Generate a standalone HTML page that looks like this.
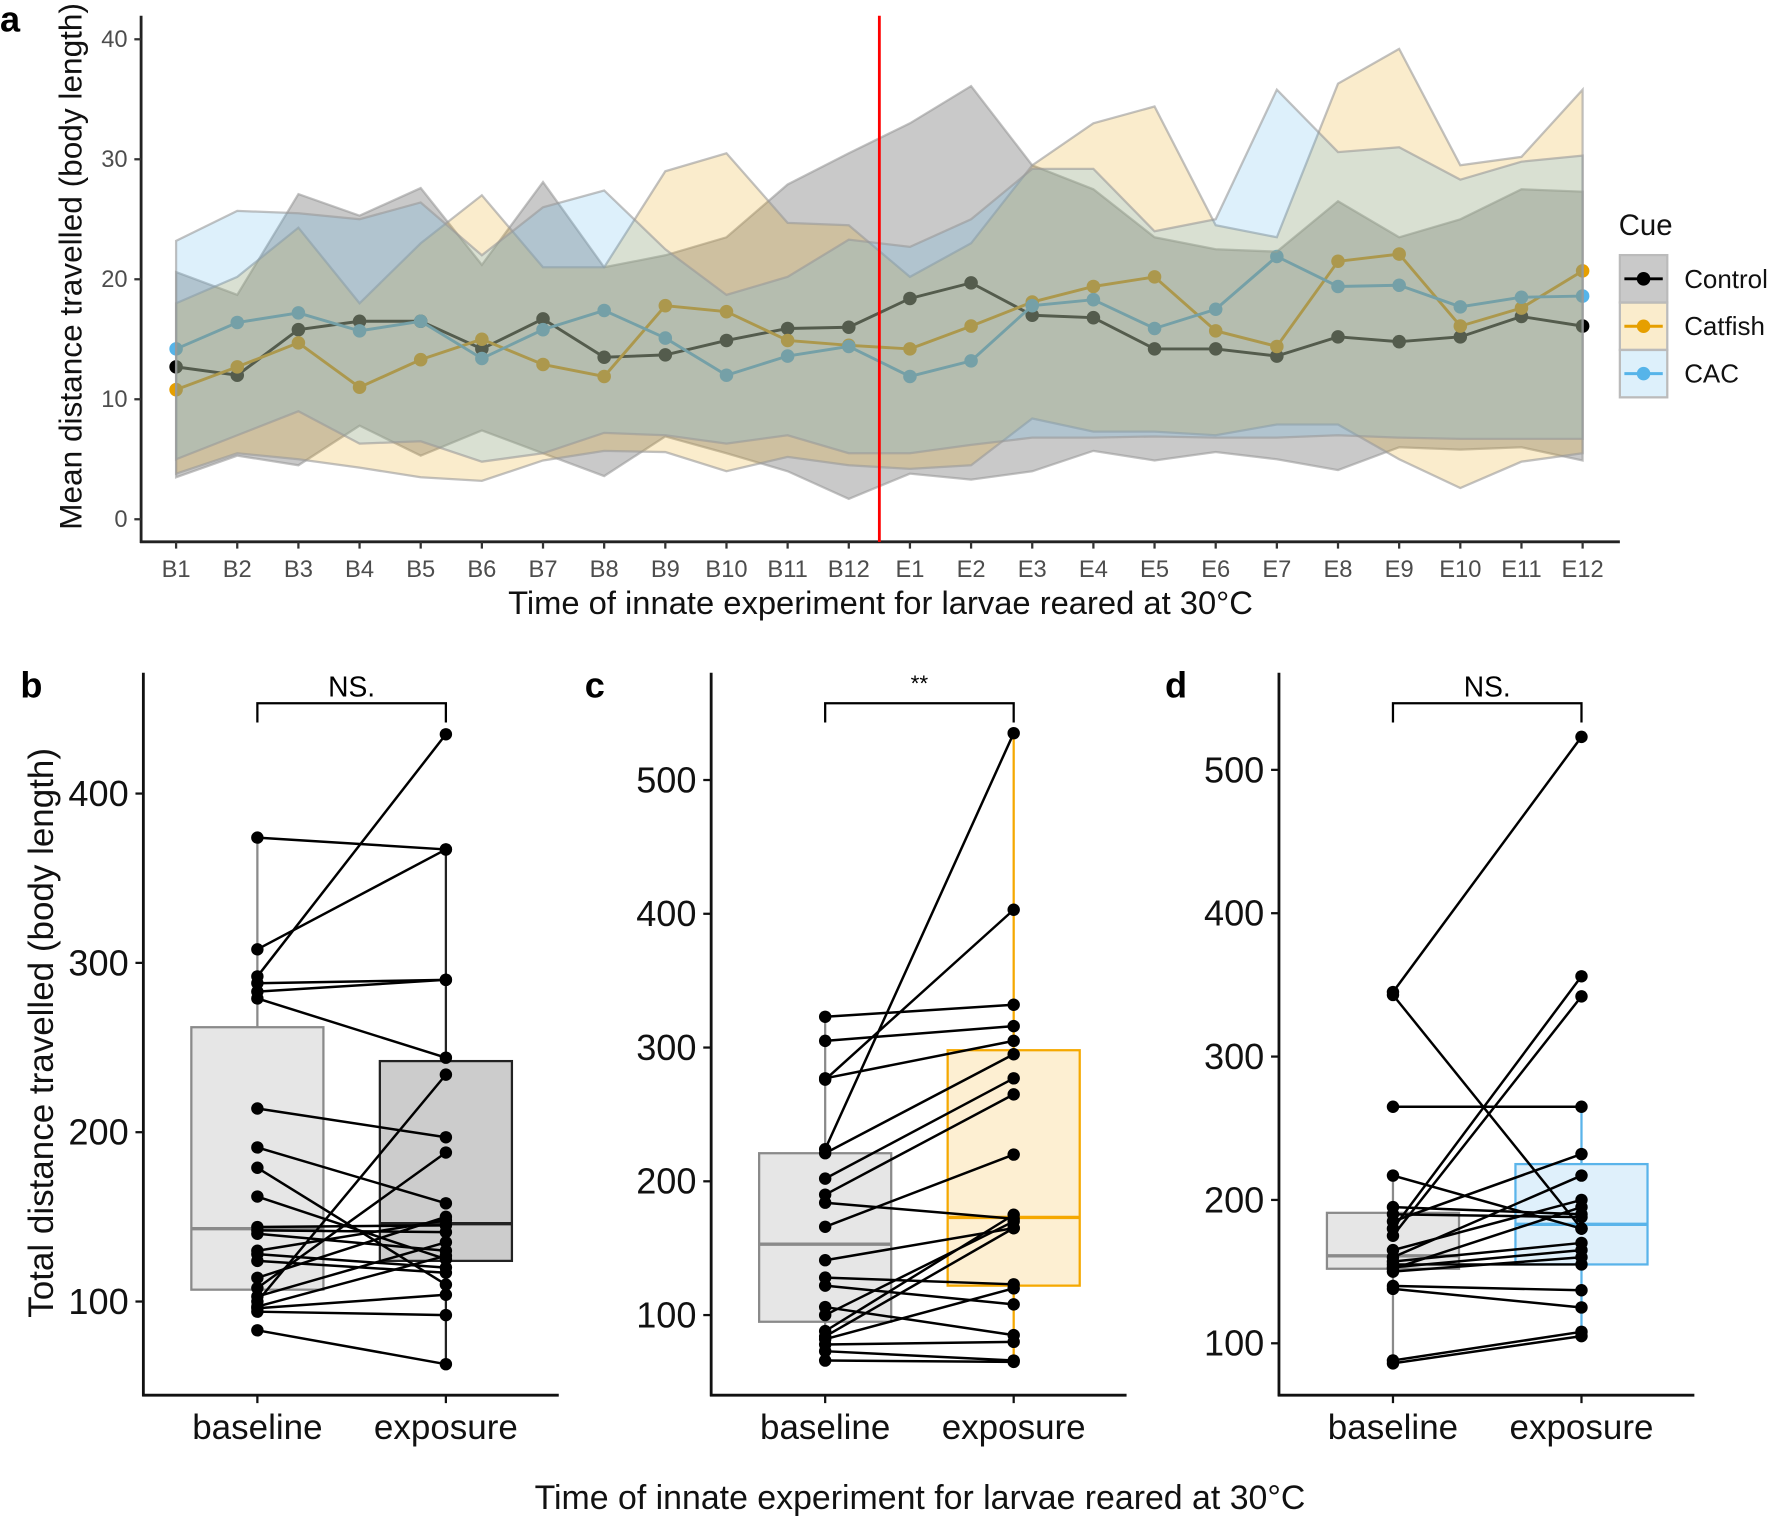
<!DOCTYPE html>
<html><head><meta charset="utf-8"><style>
html,body{margin:0;padding:0;background:#fff}
svg{display:block}
text{font-family:"Liberation Sans",sans-serif}
</style></head><body>
<svg id="s" width="1770" height="1523" viewBox="0 0 1568 1349.2" preserveAspectRatio="none" xmlns="http://www.w3.org/2000/svg"></svg>
<script>
const S=document.getElementById('s');let h='';
const X=i=>156+i*54.174, Y=v=>460-v*10.63;
const ctl=[12.7,12.0,15.8,16.5,16.5,14.2,16.7,13.5,13.7,14.9,15.9,16.0,18.4,19.7,17.0,16.8,14.2,14.2,13.6,15.2,14.8,15.2,16.9,16.1];
const cat=[10.8,12.7,14.7,11.0,13.3,15.0,12.9,11.9,17.8,17.3,14.9,14.5,14.2,16.1,18.1,19.4,20.2,15.7,14.4,21.5,22.1,16.1,17.6,20.7];
const cac=[14.2,16.4,17.2,15.7,16.5,13.4,15.8,17.4,15.1,12.0,13.6,14.4,11.9,13.2,17.8,18.3,15.9,17.5,21.9,19.4,19.5,17.7,18.5,18.6];
const cU=[20.6,18.7,27.1,25.3,27.6,21.2,28.1,21.0,22.0,23.5,27.9,30.5,33.0,36.1,29.5,27.5,23.5,22.5,22.3,26.5,23.5,25.0,27.5,27.3];
const cL=[3.5,5.3,4.5,7.8,5.3,7.4,5.5,3.6,6.9,5.5,4.0,1.7,3.8,3.3,4.0,5.7,4.9,5.6,5.0,4.1,6.0,5.8,6.0,4.9];
const fU=[18.0,20.2,24.3,18.0,23.0,27.0,21.0,21.0,29.0,30.5,24.7,24.5,20.2,23.0,29.5,33.0,34.4,24.5,23.5,36.3,39.2,29.5,30.2,35.8];
const fL=[3.8,5.5,5.0,4.3,3.5,3.2,4.9,5.7,5.6,4.0,5.2,4.5,4.2,4.5,8.4,7.3,7.3,7.0,7.9,7.9,5.0,2.6,4.8,5.5];
const bU=[23.2,25.7,25.5,25.0,26.4,22.0,26.0,27.4,22.5,18.7,20.2,23.3,22.7,25.0,29.2,29.2,24.0,25.0,35.8,30.6,31.0,28.3,29.8,30.3];
const bL=[5.0,7.0,9.0,6.3,6.5,4.8,5.5,7.2,7.0,6.3,7.0,5.5,5.5,6.2,6.8,6.8,6.9,6.8,6.8,7.0,6.8,6.7,6.7,6.7];
function line(d,c){let p=d.map((v,i)=>X(i).toFixed(1)+','+Y(v).toFixed(1)).join(' ');h+=`<polyline points="${p}" fill="none" stroke="${c}" stroke-width="2.6"/>`;d.forEach((v,i)=>h+=`<circle cx="${X(i)}" cy="${Y(v)}" r="6" fill="${c}"/>`);}
function rib(u,l,f,o){let p=u.map((v,i)=>X(i)+','+Y(v));for(let i=l.length-1;i>=0;i--)p.push(X(i)+','+Y(l[i]));h+=`<polygon points="${p.join(' ')}" fill="${f}" fill-opacity="${o}" stroke="#9a9a9a" stroke-opacity="0.6" stroke-width="2"/>`;}
line(ctl,'#000');line(cat,'#E69F00');line(cac,'#56B4E9');
rib(cU,cL,'#787878',0.4);rib(fU,fL,'#E69F00',0.2);rib(bU,bL,'#56B4E9',0.2);
h+=`<line x1="125" y1="14" x2="125" y2="481" stroke="#222" stroke-width="2.5"/><line x1="124" y1="480" x2="1435" y2="480" stroke="#222" stroke-width="2.5"/>`;
[0,10,20,30,40].forEach(v=>{h+=`<line x1="119" x2="125" y1="${Y(v)}" y2="${Y(v)}" stroke="#333" stroke-width="2"/><text x="113" y="${Y(v)+7}" font-size="21" fill="#4d4d4d" text-anchor="end">${v}</text>`});
for(let i=0;i<24;i++){let l=i<12?'B'+(i+1):'E'+(i-11);h+=`<line x1="${X(i)}" x2="${X(i)}" y1="480" y2="486" stroke="#333" stroke-width="2"/><text x="${X(i)}" y="511" font-size="21" fill="#4d4d4d" text-anchor="middle">${l}</text>`;}
h+=`<line x1="779" x2="779" y1="14" y2="480" stroke="#f00" stroke-width="2.5"/>`;
h+=`<text transform="translate(72,236) rotate(-90)" font-size="28" text-anchor="middle" fill="#111">Mean distance travelled (body length)</text>`;
h+=`<text x="780" y="544" font-size="29" text-anchor="middle" fill="#111">Time of innate experiment for larvae reared at 30°C</text>`;
h+=`<text x="0" y="28" font-size="32" font-weight="bold">a</text>`;
h+=`<text x="1434" y="208" font-size="26" fill="#111">Cue</text>`;
[['Control','#000','#787878',0.4,226],['Catfish','#E69F00','#E69F00',0.2,268],['CAC','#56B4E9','#56B4E9',0.2,310]].forEach(k=>{
h+=`<rect x="1435" y="${k[4]}" width="42" height="42" fill="${k[2]}" fill-opacity="${k[3]}" stroke="#bbb" stroke-width="2"/><line x1="1439" x2="1473" y1="${k[4]+21}" y2="${k[4]+21}" stroke="${k[1]}" stroke-width="2.6"/><circle cx="1456" cy="${k[4]+21}" r="6" fill="${k[1]}"/><text x="1492" y="${k[4]+29}" font-size="23" fill="#111">${k[0]}</text>`});
function panel(o){
 const yv=v=>o.y0-(v-o.t0)*o.k;
 h+=`<line x1="${o.ax}" y1="596" x2="${o.ax}" y2="1237" stroke="#111" stroke-width="2.5"/><line x1="${o.ax-1}" y1="1236" x2="${o.ax+368}" y2="1236" stroke="#111" stroke-width="2.5"/>`;
 o.ticks.forEach(v=>{h+=`<line x1="${o.ax-7}" x2="${o.ax}" y1="${yv(v)}" y2="${yv(v)}" stroke="#111" stroke-width="2"/><text x="${o.ax-13}" y="${yv(v)+11}" font-size="32" text-anchor="end" fill="#111">${v}</text>`});
 const bx=o.ax+101, ex=o.ax+268;
 [[bx,'baseline'],[ex,'exposure']].forEach(c=>h+=`<line x1="${c[0]}" x2="${c[0]}" y1="1236" y2="1243" stroke="#111" stroke-width="2"/><text x="${c[0]}" y="1275" font-size="31" text-anchor="middle" fill="#111">${c[1]}</text>`);
 function box(x,b,fill,st){h+=`<line x1="${x}" x2="${x}" y1="${yv(b[0])}" y2="${yv(b[4])}" stroke="${st}" stroke-width="2"/><rect x="${x-58.5}" y="${yv(b[3])}" width="117" height="${yv(b[1])-yv(b[3])}" fill="${fill}" stroke="${st}" stroke-width="2"/><line x1="${x-58.5}" x2="${x+58.5}" y1="${yv(b[2])}" y2="${yv(b[2])}" stroke="${st}" stroke-width="3"/>`;}
 box(bx,o.bb,o.bf,o.bs);box(ex,o.eb,o.ef,o.es);
 o.pairs.forEach(p=>h+=`<line x1="${bx}" y1="${yv(p[0])}" x2="${ex}" y2="${yv(p[1])}" stroke="#000" stroke-width="2.2"/>`);
 o.pairs.forEach(p=>h+=`<circle cx="${bx}" cy="${yv(p[0])}" r="5.5"/><circle cx="${ex}" cy="${yv(p[1])}" r="5.5"/>`);
 h+=`<polyline points="${bx},640 ${bx},623 ${ex},623 ${ex},640" fill="none" stroke="#000" stroke-width="2"/><text x="${(bx+ex)/2}" y="${o.lab=='**'?612:617}" font-size="${o.lab=='**'?20:25}" text-anchor="middle">${o.lab}</text>`;
 h+=`<text x="${o.lx}" y="618" font-size="32" font-weight="bold">${o.L}</text>`;
}
panel({ax:127,y0:1153,t0:100,k:1.5,ticks:[100,200,300,400],bb:[96,107,143,262,374],eb:[63,124,146,242,369],bf:'#e6e6e6',bs:'#8a8a8a',ef:'#cccccc',es:'#222',lab:'NS.',L:'b',lx:18,
 pairs:[[374,367],[308,367],[292,435],[288,290],[283,290],[279,244],[214,197],[191,158],[179,110],[162,125],[144,145],[142,141],[140,130],[130,148],[128,120],[124,117],[114,150],[108,188],[103,135],[100,234],[97,127],[96,104],[94,92],[83,63]]});
panel({ax:630,y0:1165,t0:100,k:1.185,ticks:[100,200,300,400,500],bb:[66,95,153,221,323],eb:[65,122,173,298,535],bf:'#e6e6e6',bs:'#8a8a8a',ef:'#fdefd2',es:'#F5A800',lab:'**',L:'c',lx:518,
 pairs:[[323,332],[305,316],[277,305],[276,403],[224,535],[221,295],[202,277],[190,265],[184,172],[166,220],[141,165],[128,123],[122,108],[106,85],[100,170],[88,175],[84,165],[82,120],[78,80],[73,66],[66,65]]});
panel({ax:1133,y0:1190,t0:100,k:1.27,ticks:[100,200,300,400,500],bb:[86,152,161,191,217],eb:[104,155,183,225,265],bf:'#e6e6e6',bs:'#8a8a8a',ef:'#dff0fb',es:'#5ab4ea',lab:'NS.',L:'d',lx:1032,
 pairs:[[345,523],[343,180],[265,265],[217,180],[195,190],[190,188],[185,232],[180,356],[175,342],[165,200],[160,217],[157,170],[155,155],[153,165],[152,195],[150,160],[140,137],[138,125],[88,108],[86,105]]});
h+=`<text transform="translate(47,915) rotate(-90)" font-size="31" text-anchor="middle" fill="#111">Total distance travelled (body length)</text>`;
h+=`<text x="815" y="1337" font-size="30" text-anchor="middle" fill="#111">Time of innate experiment for larvae reared at 30°C</text>`;
S.innerHTML=h;
</script>
</body></html>
